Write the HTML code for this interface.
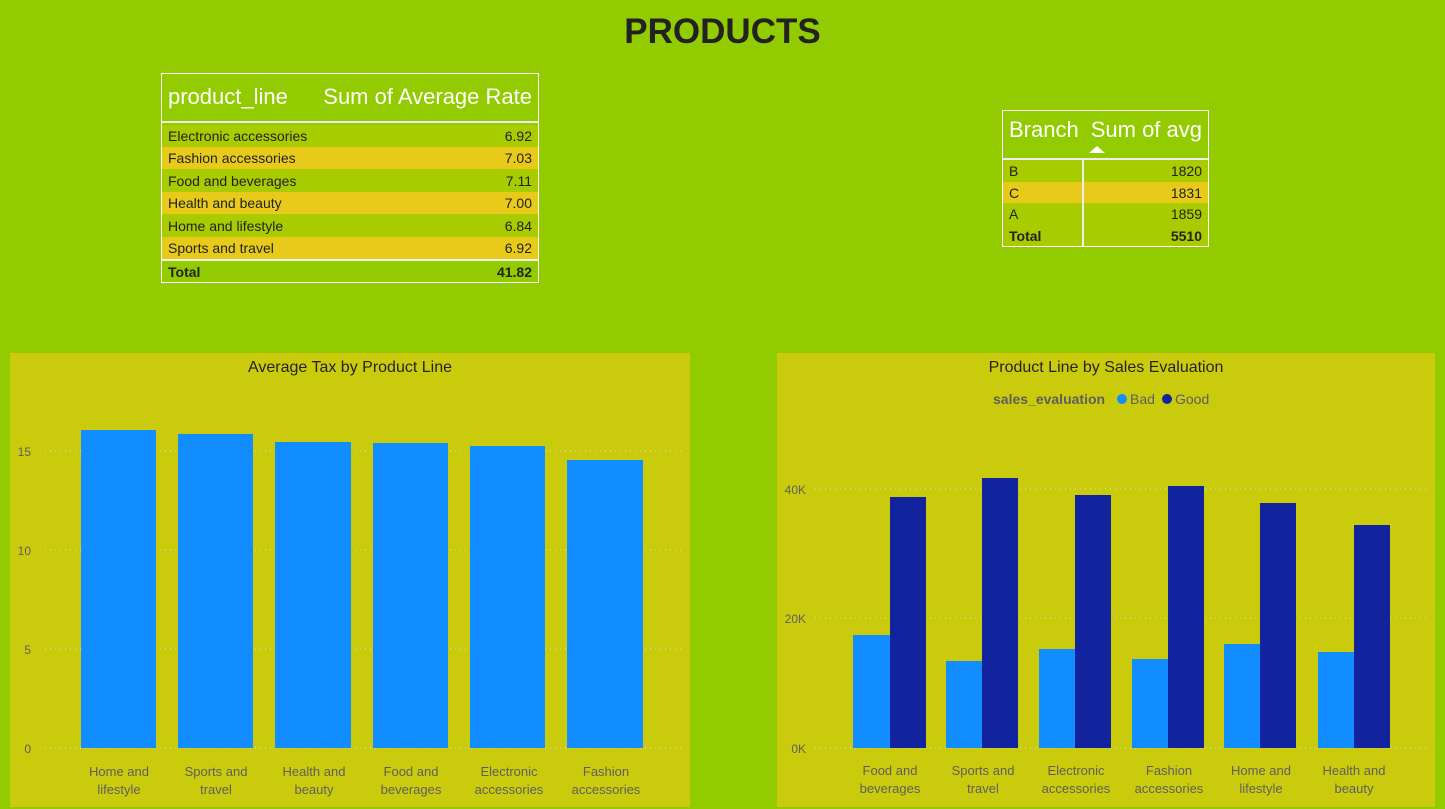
<!DOCTYPE html>
<html><head><meta charset="utf-8"><style>
body{margin:0;width:1445px;height:809px;background:#92cc00;font-family:"Liberation Sans",sans-serif;overflow:hidden;position:relative}
.t{position:absolute;border:1.5px solid #fff;box-sizing:border-box;font-size:14px;color:#222}
.r{position:absolute;left:0;right:0;display:flex;justify-content:space-between;padding:0 6px;box-sizing:border-box;align-items:center}
</style></head><body>
<div style="position:absolute;left:0;width:1445px;top:12px;text-align:center;font-size:35px;font-weight:bold;color:#222">PRODUCTS</div>

<div class="t" style="left:161px;top:73px;width:378px;height:210px">
 <div class="r" style="top:0;height:46px;color:#fff;font-size:22px"><span>product_line</span><span>Sum of Average Rate</span></div>
 <div style="position:absolute;top:47px;left:0;right:0;height:2px;background:#eee"></div>
 <div class="r" style="top:51px;height:22px;background:#a9cc00"><span>Electronic accessories</span><span>6.92</span></div>
 <div class="r" style="top:73px;height:22px;background:#e8cb1a"><span>Fashion accessories</span><span>7.03</span></div>
 <div class="r" style="top:95px;height:23px;background:#a9cc00"><span>Food and beverages</span><span>7.11</span></div>
 <div class="r" style="top:118px;height:22px;background:#e8cb1a"><span>Health and beauty</span><span>7.00</span></div>
 <div class="r" style="top:140px;height:23px;background:#a9cc00"><span>Home and lifestyle</span><span>6.84</span></div>
 <div class="r" style="top:163px;height:22px;background:#e8cb1a"><span>Sports and travel</span><span>6.92</span></div>
 <div style="position:absolute;top:185px;left:0;right:0;height:2px;background:#eee"></div>
 <div class="r" style="top:187px;height:21px;font-weight:bold"><span>Total</span><span>41.82</span></div>
</div>

<div class="t" style="left:1002px;top:110px;width:207px;height:137px">
 <div class="r" style="top:0;height:38px;color:#fff;font-size:22px;justify-content:flex-start;gap:12px"><span>Branch</span><span>Sum of avg</span></div>
 <div style="position:absolute;left:86px;top:35px;width:0;height:0;border-left:8px solid transparent;border-right:8px solid transparent;border-bottom:7px solid #fff"></div>
 <div style="position:absolute;top:47px;left:0;right:0;height:2px;background:#eee"></div>
 <div class="r" style="top:49px;height:22px;background:#a9cc00"><span>B</span><span>1820</span></div>
 <div class="r" style="top:71px;height:21px;background:#e8cb1a"><span>C</span><span>1831</span></div>
 <div class="r" style="top:92px;height:22px;background:#a9cc00"><span>A</span><span>1859</span></div>
 <div class="r" style="top:114px;height:21px;background:#a9cc00;font-weight:bold"><span>Total</span><span>5510</span></div>
 <div style="position:absolute;left:79px;top:49px;width:2px;bottom:0;background:#eee"></div>
</div>

<svg width="1445" height="809" style="position:absolute;left:0;top:0" font-family="Liberation Sans, sans-serif">
<rect x="10" y="353" width="680" height="454" fill="#cbcb0e"/>
<text x="350" y="372" text-anchor="middle" font-size="16" fill="#252423">Average Tax by Product Line</text>
<g stroke="#ddd" stroke-dasharray="1 4" stroke-width="1">
<line x1="45" x2="685" y1="451" y2="451"/><line x1="45" x2="685" y1="550" y2="550"/><line x1="45" x2="685" y1="649" y2="649"/><line x1="45" x2="685" y1="748" y2="748"/>
</g>
<g font-size="12" fill="#605e5c" text-anchor="end"><text x="31" y="456">15</text><text x="31" y="555">10</text><text x="31" y="654">5</text><text x="31" y="753">0</text></g>
<g fill="#118dff">
<rect x="81" y="430" width="75" height="318"/><rect x="178" y="434" width="75" height="314"/><rect x="275" y="442" width="76" height="306"/><rect x="373" y="443" width="75" height="305"/><rect x="470" y="446" width="75" height="302"/><rect x="567" y="460" width="76" height="288"/>
</g>
<g font-size="13" fill="#605e5c" text-anchor="middle">
<text x="119" y="776">Home and</text><text x="119" y="794">lifestyle</text>
<text x="216" y="776">Sports and</text><text x="216" y="794">travel</text>
<text x="314" y="776">Health and</text><text x="314" y="794">beauty</text>
<text x="411" y="776">Food and</text><text x="411" y="794">beverages</text>
<text x="509" y="776">Electronic</text><text x="509" y="794">accessories</text>
<text x="606" y="776">Fashion</text><text x="606" y="794">accessories</text>
</g>

<rect x="777" y="353" width="658" height="454" fill="#cbcb0e"/>
<text x="1106" y="372" text-anchor="middle" font-size="16" fill="#252423">Product Line by Sales Evaluation</text>
<text x="993" y="404" font-size="14" font-weight="bold" fill="#605e5c">sales_evaluation</text>
<circle cx="1122" cy="399" r="5" fill="#118dff"/><text x="1130" y="404" font-size="14" fill="#605e5c">Bad</text>
<circle cx="1167" cy="399" r="5" fill="#12239e"/><text x="1175" y="404" font-size="14" fill="#605e5c">Good</text>
<g stroke="#ddd" stroke-dasharray="1 4" stroke-width="1">
<line x1="815" x2="1430" y1="489" y2="489"/><line x1="815" x2="1430" y1="618" y2="618"/><line x1="815" x2="1430" y1="748" y2="748"/>
</g>
<g font-size="12" fill="#605e5c" text-anchor="end"><text x="806" y="494">40K</text><text x="806" y="623">20K</text><text x="806" y="753">0K</text></g>
<g fill="#118dff">
<rect x="853" y="635" width="37" height="113"/><rect x="946" y="661" width="36" height="87"/><rect x="1039" y="649" width="36" height="99"/><rect x="1132" y="659" width="36" height="89"/><rect x="1224" y="644" width="36" height="104"/><rect x="1318" y="652" width="36" height="96"/>
</g>
<g fill="#12239e">
<rect x="890" y="497" width="36" height="251"/><rect x="982" y="478" width="36" height="270"/><rect x="1075" y="495" width="36" height="253"/><rect x="1168" y="486" width="36" height="262"/><rect x="1260" y="503" width="36" height="245"/><rect x="1354" y="525" width="36" height="223"/>
</g>
<g font-size="13" fill="#605e5c" text-anchor="middle">
<text x="890" y="775">Food and</text><text x="890" y="793">beverages</text>
<text x="983" y="775">Sports and</text><text x="983" y="793">travel</text>
<text x="1076" y="775">Electronic</text><text x="1076" y="793">accessories</text>
<text x="1169" y="775">Fashion</text><text x="1169" y="793">accessories</text>
<text x="1261" y="775">Home and</text><text x="1261" y="793">lifestyle</text>
<text x="1354" y="775">Health and</text><text x="1354" y="793">beauty</text>
</g>
</svg>
</body></html>
